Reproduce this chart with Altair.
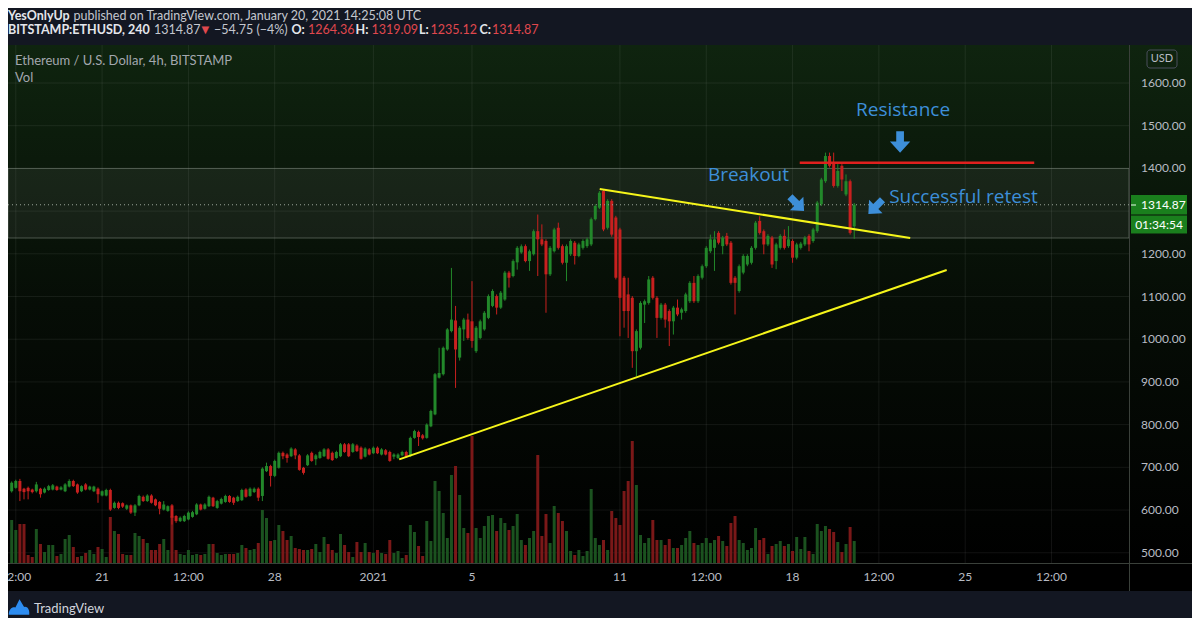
import altair as alt
import pandas as pd

# ---------------- values ----------------
opens = [644,652,668,650,652,648,644,650,641,647,648,655,648,644,655,668,660,644,660,648,
         644,650,634,634,647,605,617,616,603,611,594,611,631,621,634,625,619,601,598,611,586,574,
         574,578,584,590,613,603,609,629,605,615,619,633,629,621,623,648,633,642,650,633,
         691,703,680,699,734,730,726,742,728,699,705,734,719,722,726,742,734,722,726,754,
         754,736,751,746,725,742,733,746,730,740,736,725,
         722,728,736,726,769,783,775,769,796,824,910,918,976,1019,1044,957,1023,1046,1042,972,
         1003,1023,1050,1078,1101,1074,1093,1156,1148,1180,1203,1218,1183,1199,1253,1234,1230,1152,1206,1261,
         1218,1179,1199,1226,1195,1214,1218,1222,1281,1308,1347,
         1261,1324,1285,1257,1144,1105,1097,972,980,1081,1085,1144,1097,1050,1081,1066,1042,1074,1062,1066,
         1089,1132,1089,1144,1171,1206,1214,1249,1218,1242,1226,1144,1113,1156,1175,1179,1214,
         1277,1253,1222,1238,1183,1214,1242,1218,1230,1191,1214,1222,1242,1230,1253,1316,1370,1429,1413,1359,
         1406,1339,1370,1264.36]
highs = [667,671,673,652,655,650,666,652,653,659,661,657,656,663,672,671,662,658,663,657,
         657,653,646,650,650,620,620,618,613,613,614,636,634,637,637,627,621,621,611,614,588,585,
         589,597,598,616,615,616,634,631,624,629,636,635,631,634,650,651,653,653,653,700,
         711,706,718,737,737,733,747,745,731,701,731,737,731,739,745,745,737,739,757,757,
         757,757,754,749,747,745,749,749,745,743,739,733,
         733,739,739,772,788,786,778,803,835,921,980,983,1026,1167,1078,1031,1050,1060,1136,1031,
         1046,1066,1105,1117,1105,1113,1160,1160,1187,1218,1222,1222,1210,1257,1292,1269,1234,1218,1261,1273,
         1222,1222,1234,1230,1226,1234,1238,1285,1316,1347,1350,
         1328,1328,1289,1261,1148,1144,1101,1023,1089,1093,1148,1148,1101,1085,1085,1070,1078,1093,1074,1109,
         1136,1148,1152,1175,1218,1245,1253,1253,1242,1249,1230,1148,1175,1199,1199,1218,1277,
         1288,1257,1246,1242,1226,1246,1257,1265,1234,1226,1228,1242,1246,1261,1324,1378,1437,1437,1437,1410,
         1410,1386,1374,1319.09]
lows = [641,650,621,625,625,639,641,629,639,645,646,645,646,642,653,654,638,642,646,646,
        642,617,632,632,598,603,602,605,600,591,586,609,619,619,615,609,590,599,596,566,570,572,
        572,576,582,588,599,601,607,607,603,613,617,617,612,619,621,629,631,640,621,621,
        689,655,677,697,719,711,724,719,692,683,703,713,705,720,724,718,715,720,724,734,
        724,734,736,718,723,728,731,731,728,728,713,719,
        719,726,722,724,767,750,765,767,794,822,908,915,973,1016,886,950,996,999,980,968,
        1000,1020,1047,1075,1058,1071,1090,1121,1145,1163,1200,1180,1160,1196,1148,1218,1062,1148,1203,1210,
        1175,1136,1195,1175,1192,1210,1214,1218,1278,1305,1253,
        1257,1240,1140,1007,1027,1003,933,913,976,1038,1081,1093,1003,1046,1027,984,1011,1054,1046,1062,
        1085,1085,1085,1140,1167,1202,1160,1222,1199,1218,1128,1058,1109,1152,1171,1175,1210,
        1245,1199,1218,1167,1164,1210,1210,1214,1179,1187,1210,1218,1206,1226,1249,1312,1366,1402,1355,1355,
        1347,1335,1245,1235.12]
closes = [664,668,644,642,644,642,660,637,650,656,658,647,653,660,668,656,641,656,648,655,
          655,637,644,647,601,617,605,608,611,594,611,633,621,634,617,611,603,613,609,582,574,582,
          586,594,595,613,601,613,631,609,621,626,633,619,617,631,647,631,650,650,629,697,
          703,680,715,734,726,722,744,728,694,687,728,715,728,736,742,720,717,736,754,736,
          726,754,738,720,744,730,746,733,742,730,715,730,
          730,736,724,769,785,771,768,800,832,918,921,980,1023,1046,976,1027,1046,1003,996,1027,
          1042,1062,1101,1113,1074,1109,1156,1144,1183,1214,1218,1183,1206,1253,1234,1222,1152,1214,1257,1214,
          1179,1218,1230,1195,1222,1230,1234,1281,1312,1343,1257,
          1324,1245,1144,1097,1066,1066,972,1019,1085,1089,1140,1097,1050,1081,1046,1042,1074,1058,1070,1105,
          1132,1089,1148,1171,1214,1234,1234,1226,1238,1222,1132,1132,1171,1195,1195,1214,1273,
          1249,1222,1242,1175,1222,1242,1214,1234,1191,1222,1224,1238,1222,1257,1320,1374,1429,1406,1359,1394,
          1374,1370,1249,1314.87]
volumes = [43,33,39,39,8,6,34,19,11,18,18,7,9,24,28,16,6,7,10,13,9,16,14,6,46,32,29,9,8,8,30,27,24,20,13,13,19,24,13,47,13,9,
           8,13,8,9,8,9,19,19,10,8,9,9,9,10,18,15,13,14,20,53,45,22,23,38,32,23,27,15,14,13,13,14,19,11,26,19,13,10,29,18,11,6,21,11,20,11,10,13,10,9,23,10,
           12,5,8,38,31,17,7,42,22,82,72,50,25,88,97,68,35,30,127,35,25,37,47,48,32,45,40,33,37,49,23,18,25,32,108,27,49,20,57,50,42,32,12,8,13,7,12,74,25,18,23,
           13,52,45,38,72,82,122,78,28,20,25,43,23,23,18,24,15,15,18,25,32,20,18,20,25,20,23,27,22,17,40,47,23,20,13,15,35,
           23,25,9,17,19,22,17,19,12,26,14,26,12,9,39,32,37,34,31,21,11,19,36,22]

price_ticks = [500, 600, 700, 800, 900, 1000, 1100, 1200, 1300, 1400, 1500, 1600]
price_tick_labels = ["500.00", "600.00", "700.00", "800.00", "900.00", "1000.00", "1100.00",
                     "1200.00", "1300.00", "1400.00", "1500.00", "1600.00"]
time_ticks = [-3.5, 0, 3.5, 7, 11, 15, 21, 24.5, 28, 31.5, 35, 38.5]   # days after 2020-12-21
time_tick_labels = ["12:00", "21", "12:00", "28", "2021", "5", "11", "12:00", "18", "12:00", "25", "12:00"]

zone_top = [1400]
zone_bottom = [1237]
last_price = [1314.87]
trend_d1 = [12.05, 20.18]
trend_p1 = [718.7, 1351.8]
trend_d2 = [34.25, 32.77]
trend_p2 = [1162, 1237]
resist_d1 = [28.29]
resist_d2 = [37.80]
resist_p = [1413]
note_text = ["Resistance", "Breakout", "Successful retest"]
note_d = [32.48, 26.21, 34.93]
note_p = [1537, 1384, 1333]
arrow_d = [32.36, 28.18, 31.36]
arrow_p = [1462, 1317, 1310]

# ---------------- frame ----------------
W, H = 1184, 546          # whole dark panel (plot + price column + time strip)
PW, PH = 1121, 518        # plot area
FONT = "Lato"
NOTE_FONT = "Open Sans"
BG = "#131722"
GREEN, RED = "#22882a", "#c8201f"
VGREEN, VRED = "#1b521f", "#7a1818"
BLUE = "#3d8fd9"
AXC = "#b8bcc4"

times = pd.date_range("2020-12-17 08:00", periods=len(closes), freq="4h")
days = ((times - pd.Timestamp("2020-12-21")) / pd.Timedelta(days=1)).tolist()
df = pd.DataFrame({"d": days, "open": opens, "high": highs, "low": lows,
                   "close": closes, "volume": volumes})

XS = alt.Scale(domain=[-3.613, 41.44], range=[0, PW], nice=False, zero=False)
PS = alt.Scale(domain=[476, 1689], range=[PH, 0], nice=False, zero=False)
VS = alt.Scale(domain=[0, PH], range=[PH, 0], nice=False, zero=False)
ONE = alt.Data(values=[{"k": 0}])

up = alt.datum.close >= alt.datum.open
candle_color = alt.when(up).then(alt.value(GREEN)).otherwise(alt.value(RED))
vol_color = alt.when(up).then(alt.value(VGREEN)).otherwise(alt.value(VRED))


def X(f):
    return alt.X(f, scale=XS, axis=None)


def Y(f, s=PS):
    return alt.Y(f, scale=s, axis=None)


def prect(x, x2, y, y2, **kw):
    return alt.Chart(ONE).mark_rect(**kw).encode(
        x=alt.value(x), x2=alt.value(x2), y=alt.value(y), y2=alt.value(y2))


def prule(x, x2, y, y2, **kw):
    return alt.Chart(ONE).mark_rule(**kw).encode(
        x=alt.value(x), x2=alt.value(x2), y=alt.value(y), y2=alt.value(y2))


def ptext(s, x, y, color, size=12.5, weight="normal", align="left", font=FONT):
    return alt.Chart(ONE).mark_text(text=s, align=align, baseline="middle", font=font,
                                    fontSize=size, fontWeight=weight, color=color).encode(
        x=alt.value(x), y=alt.value(y))


grad = alt.LinearGradient(gradient="linear", x1=0, x2=0, y1=0, y2=1,
                          stops=[alt.GradientStop(color="#0f240f", offset=0),
                                 alt.GradientStop(color="#060d06", offset=0.5),
                                 alt.GradientStop(color="#000000", offset=1)])

layers = []
layers.append(prect(0, W, 0, PH, fill=grad))
layers.append(prect(0, W, PH, H, fill="#000000"))

# grid
layers.append(alt.Chart(pd.DataFrame({"p": price_ticks})).mark_rule(
    color="#ffffff", opacity=0.07, strokeWidth=1).encode(
    y=Y("p:Q"), x=alt.value(0), x2=alt.value(PW)))
layers.append(alt.Chart(pd.DataFrame({"d": time_ticks})).mark_rule(
    color="#ffffff", opacity=0.07, strokeWidth=1).encode(
    x=X("d:Q"), y=alt.value(0), y2=alt.value(PH)))

# highlighted zone
layers.append(alt.Chart(pd.DataFrame({"top": zone_top, "bottom": zone_bottom})).mark_rect(
    fill="#c8d0c8", fillOpacity=0.075, stroke="#8a948a", strokeOpacity=0.5, strokeWidth=1).encode(
    x=alt.value(0), x2=alt.value(PW), y=Y("top:Q"), y2="bottom:Q"))

# volume
layers.append(alt.Chart(df).mark_bar(size=3).encode(
    x=X("d:Q"), y=Y("volume:Q", VS), color=vol_color))

# candles
layers.append(alt.Chart(df).mark_rule(strokeWidth=1).encode(
    x=X("d:Q"), y=Y("low:Q"), y2="high:Q", color=candle_color))
layers.append(alt.Chart(df).mark_bar(size=3).encode(
    x=X("d:Q"), y=Y("open:Q"), y2="close:Q", color=candle_color))

# last price dotted line
layers.append(alt.Chart(pd.DataFrame({"p": last_price})).mark_rule(
    color="#9aa69a", strokeDash=[1, 3], strokeWidth=1).encode(
    y=Y("p:Q"), x=alt.value(0), x2=alt.value(PW)))

# trend lines
layers.append(alt.Chart(pd.DataFrame({"d1": trend_d1, "p1": trend_p1, "d2": trend_d2, "p2": trend_p2}))
              .mark_rule(color="#f5f51a", strokeWidth=2).encode(
    x=X("d1:Q"), x2="d2:Q", y=Y("p1:Q"), y2="p2:Q"))
layers.append(alt.Chart(pd.DataFrame({"d1": resist_d1, "d2": resist_d2, "p": resist_p}))
              .mark_rule(color="#e0201e", strokeWidth=2.5).encode(
    x=X("d1:Q"), x2="d2:Q", y=Y("p:Q")))

# notes
layers.append(alt.Chart(pd.DataFrame({"t": note_text, "d": note_d, "p": note_p})).mark_text(
    font=NOTE_FONT, fontSize=19, color=BLUE, align="center", baseline="middle").encode(
    x=X("d:Q"), y=Y("p:Q"), text="t:N"))

ARROW = "M-0.36,-1 L0.36,-1 L0.36,-0.05 L0.95,-0.05 L0,1 L-0.95,-0.05 L-0.36,-0.05 Z"
for i, ang in enumerate([0, 315, 45]):
    layers.append(alt.Chart(pd.DataFrame({"d": [arrow_d[i]], "p": [arrow_p[i]]})).mark_point(
        shape=ARROW, size=460 if i == 0 else 400, filled=True, color=BLUE, opacity=1, angle=ang).encode(
        x=X("d:Q"), y=Y("p:Q")))

# separators
layers.append(prule(PW + 0.5, PW + 0.5, 0, H, color="#3a403a", strokeWidth=1))
layers.append(prule(0, W, PH + 0.5, PH + 0.5, color="#3a403a", strokeWidth=1))

# price labels (1300 is hidden behind the last-price box)
layers.append(alt.Chart(pd.DataFrame({"p": price_ticks, "lab": price_tick_labels}))
              .transform_filter("datum.p != 1300").mark_text(
    font=FONT, fontSize=12, color=AXC, align="left", baseline="middle").encode(
    x=alt.value(1133), y=Y("p:Q"), text="lab:N"))

# time labels
layers.append(alt.Chart(pd.DataFrame({"d": time_ticks, "lab": time_tick_labels})).mark_text(
    font=FONT, fontSize=12, color=AXC, align="center", baseline="middle").encode(
    x=X("d:Q"), y=alt.value(532), text="lab:N"))

# current price / countdown boxes
layers.append(prect(1123, 1179, 150, 169.5, fill="#1a7f1d"))
layers.append(prect(1123, 1179, 170.5, 188.5, fill="#1a7f1d"))
layers.append(prule(1123, 1128, 160, 160, color="#e8ffe8", strokeWidth=1))
layers.append(ptext("1314.87", 1133, 160, "#ffffff", size=12))
layers.append(ptext("01:34:54", 1151, 179.5, "#ffffff", size=12, align="center"))

# USD box
layers.append(alt.Chart(ONE).mark_rect(fillOpacity=0, stroke="#4a4f5c", strokeWidth=1, cornerRadius=3).encode(
    x=alt.value(1139), x2=alt.value(1169), y=alt.value(5), y2=alt.value(23)))
layers.append(ptext("USD", 1154, 14, AXC, size=11, align="center"))

# legend texts inside chart
layers.append(ptext("Ethereum / U.S. Dollar, 4h, BITSTAMP", 7, 16, "#a3a7ae", size=13))
layers.append(ptext("Vol", 7, 32.5, "#a3a7ae", size=13))

# header
HL = "#e4e6eb"
HG = "#c4c7cf"
HR = "#e0484e"
y1, y2 = -29.5, -15
layers += [
    ptext("YesOnlyUp", 0, y1, HL, weight="bold"),
    ptext("published on TradingView.com, January 20, 2021 14:25:08 UTC", 65.5, y1, HG),
    ptext("BITSTAMP:ETHUSD, 240", 0, y2, HL, weight="bold"),
    ptext("1314.87", 146, y2, HG),
    ptext("▼", 193.5, y2, HR, size=10, font="DejaVu Sans"),
    ptext("−54.75 (−4%)", 206, y2, HG),
    ptext("O:", 283.5, y2, HL, weight="bold"),
    ptext("1264.36", 300, y2, HR),
    ptext("H:", 347.5, y2, HL, weight="bold"),
    ptext("1319.09", 363.5, y2, HR),
    ptext("L:", 411, y2, HL, weight="bold"),
    ptext("1235.12", 422.5, y2, HR),
    ptext("C:", 471.5, y2, HL, weight="bold"),
    ptext("1314.87", 484, y2, HR),
]

# footer logo
LOGO = "M-1,0.75 C-1,0.2 -0.65,-0.05 -0.35,0.05 L0.05,-0.75 L0.5,0.0 C0.8,-0.1 1,0.25 1,0.5 L1,0.75 Z"
layers.append(alt.Chart(ONE).mark_point(shape=LOGO, size=420, filled=True, color="#2d8cf0", opacity=1).encode(
    x=alt.value(11), y=alt.value(562)))
layers.append(ptext("TradingView", 26, 563.5, "#d1d4dc", size=13))

chart = alt.layer(*layers).resolve_scale(y="independent").properties(
    width=W, height=H,
    padding={"left": 0, "top": 37, "right": 0, "bottom": 27},
    autosize=alt.AutoSizeParams(type="none"),
).configure(background=BG).configure_view(strokeWidth=0)

chart.save("out.html", embed_options={"renderer": "svg", "actions": False})
